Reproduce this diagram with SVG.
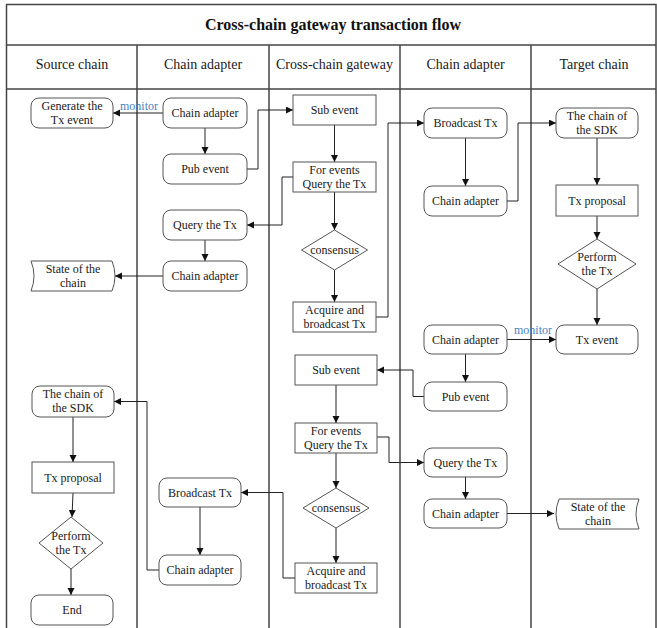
<svg xmlns="http://www.w3.org/2000/svg" width="657" height="628" viewBox="0 0 657 628">
  <style>
    .frame { fill: none; stroke: #444; stroke-width: 1.5; }
    .box { fill: #fff; stroke: #555; stroke-width: 1; }
    .t { font-family: "Liberation Serif", "Times New Roman", serif; font-size: 12px; fill: #1a1a1a; text-anchor: middle; }
    .hdr { font-family: "Liberation Serif", "Times New Roman", serif; font-size: 14px; fill: #1a1a1a; text-anchor: middle; }
    .title { font-family: "Liberation Serif", "Times New Roman", serif; font-size: 16px; font-weight: bold; fill: #111; text-anchor: middle; }
    .lbl { font-family: "Liberation Serif", "Times New Roman", serif; font-size: 12px; fill: #4a7fbf; text-anchor: middle; }
    .edge { fill: none; stroke: #222; stroke-width: 1; marker-end: url(#arrow); }
  </style>
  <defs>
    <marker id="arrow" markerUnits="userSpaceOnUse" markerWidth="8" markerHeight="8" refX="7" refY="3.5" orient="auto">
      <path d="M0,0 L7,3.5 L0,7 Z" fill="#111"/>
    </marker>
  </defs>

  <rect width="657" height="628" fill="#fff"/>

  <!-- swimlane frame -->
  <g id="frame" class="frame">
    <path d="M6.5,628 V4.5 H656 V628"/>
    <line x1="6.5" y1="45" x2="656" y2="45"/>
    <line x1="6.5" y1="89" x2="656" y2="89"/>
    <line x1="137" y1="45" x2="137" y2="628"/>
    <line x1="269" y1="45" x2="269" y2="628"/>
    <line x1="400" y1="45" x2="400" y2="628"/>
    <line x1="531" y1="45" x2="531" y2="628"/>
  </g>
  <g id="headings">
    <text class="title" x="333" y="30">Cross-chain gateway transaction flow</text>
    <text class="hdr" x="72" y="69">Source chain</text>
    <text class="hdr" x="203" y="69">Chain adapter</text>
    <text class="hdr" x="334.5" y="69">Cross-chain gateway</text>
    <text class="hdr" x="465.5" y="69">Chain adapter</text>
    <text class="hdr" x="594" y="69">Target chain</text>
  </g>

  <!-- connectors -->
  <g id="connectors">
    <path class="edge" d="M163,113 H113"/>
    <path class="edge" d="M205,128 V154"/>
    <path class="edge" d="M247,169 H258 V110 H293"/>
    <path class="edge" d="M334.5,125 V162"/>
    <path class="edge" d="M293,177 H282 V225 H247"/>
    <path class="edge" d="M205,240 V261"/>
    <path class="edge" d="M163,276 H115"/>
    <path class="edge" d="M334.5,192 V230"/>
    <path class="edge" d="M334.5,270 V302"/>
    <path class="edge" d="M376,317 H388 V123 H424"/>
    <path class="edge" d="M465.5,138 V186"/>
    <path class="edge" d="M507,201 H518 V123 H556"/>
    <path class="edge" d="M597,138 V185"/>
    <path class="edge" d="M597,216 V239"/>
    <path class="edge" d="M597,289 V325"/>
    <path class="edge" d="M507,339.5 H556"/>
    <path class="edge" d="M465.5,354 V382"/>
    <path class="edge" d="M424,396.5 H413 V370 H377"/>
    <path class="edge" d="M336,385 V423"/>
    <path class="edge" d="M377,437 H389 V462.5 H424"/>
    <path class="edge" d="M465.5,477 V499"/>
    <path class="edge" d="M507,513.5 H554"/>
    <path class="edge" d="M336,453 V488"/>
    <path class="edge" d="M336,528 V563"/>
    <path class="edge" d="M295,578 H283 V492.5 H241"/>
    <path class="edge" d="M200,507 V555"/>
    <path class="edge" d="M159,570 H147 V401.5 H114"/>
    <path class="edge" d="M73,417 V462"/>
    <path class="edge" d="M73,493 L72,517"/>
    <path class="edge" d="M71,569 V595"/>
    <text class="lbl" x="139" y="110">monitor</text>
    <text class="lbl" x="533" y="334">monitor</text>
  </g>

  <!-- Source chain lane -->
  <g id="src-generate">
    <rect class="box" x="31" y="98" width="82" height="30" rx="8"/>
    <text class="t" x="72" y="110">Generate the</text>
    <text class="t" x="72" y="124">Tx event</text>
  </g>
  <g id="src-state">
    <path class="box" d="M31,261 H112 Q118,276 112,291 H31 Q37,276 31,261 Z"/>
    <text class="t" x="73" y="273">State of the</text>
    <text class="t" x="73" y="287">chain</text>
  </g>
  <g id="src-sdk">
    <rect class="box" x="32" y="386" width="82" height="31" rx="8"/>
    <text class="t" x="73" y="398">The chain of</text>
    <text class="t" x="73" y="412">the SDK</text>
  </g>
  <g id="src-proposal">
    <rect class="box" x="32" y="462" width="82" height="31"/>
    <text class="t" x="73" y="482">Tx proposal</text>
  </g>
  <g id="src-perform">
    <polygon class="box" points="71,517 103,543 71,569 39,543"/>
    <text class="t" x="71" y="540">Perform</text>
    <text class="t" x="71" y="554">the Tx</text>
  </g>
  <g id="src-end">
    <rect class="box" x="31" y="595" width="82" height="30" rx="8"/>
    <text class="t" x="72" y="614">End</text>
  </g>

  <!-- Source-side chain adapter lane -->
  <g id="sa-adapter-1">
    <rect class="box" x="163" y="98" width="84" height="30" rx="8"/>
    <text class="t" x="205" y="117">Chain adapter</text>
  </g>
  <g id="sa-pub">
    <rect class="box" x="163" y="154" width="84" height="30" rx="8"/>
    <text class="t" x="205" y="173">Pub event</text>
  </g>
  <g id="sa-query">
    <rect class="box" x="163" y="210" width="84" height="30" rx="8"/>
    <text class="t" x="205" y="229">Query the Tx</text>
  </g>
  <g id="sa-adapter-2">
    <rect class="box" x="163" y="261" width="84" height="30" rx="8"/>
    <text class="t" x="205" y="280">Chain adapter</text>
  </g>
  <g id="sa-broadcast">
    <rect class="box" x="159" y="478" width="82" height="29" rx="8"/>
    <text class="t" x="200" y="497">Broadcast Tx</text>
  </g>
  <g id="sa-adapter-3">
    <rect class="box" x="159" y="555" width="82" height="30" rx="8"/>
    <text class="t" x="200" y="574">Chain adapter</text>
  </g>

  <!-- Gateway lane -->
  <g id="gw-sub-1">
    <rect class="box" x="293" y="95" width="83" height="30"/>
    <text class="t" x="334.5" y="114">Sub event</text>
  </g>
  <g id="gw-query-1">
    <rect class="box" x="293" y="162" width="83" height="30"/>
    <text class="t" x="334.5" y="174">For events</text>
    <text class="t" x="334.5" y="188">Query the Tx</text>
  </g>
  <g id="gw-consensus-1">
    <polygon class="box" points="334.5,230 367.5,250 334.5,270 301.5,250"/>
    <text class="t" x="334.5" y="254">consensus</text>
  </g>
  <g id="gw-acquire-1">
    <rect class="box" x="293" y="302" width="83" height="30"/>
    <text class="t" x="334.5" y="314">Acquire and</text>
    <text class="t" x="334.5" y="328">broadcast Tx</text>
  </g>
  <g id="gw-sub-2">
    <rect class="box" x="295" y="355" width="82" height="30"/>
    <text class="t" x="336" y="374">Sub event</text>
  </g>
  <g id="gw-query-2">
    <rect class="box" x="295" y="423" width="82" height="30"/>
    <text class="t" x="336" y="435">For events</text>
    <text class="t" x="336" y="449">Query the Tx</text>
  </g>
  <g id="gw-consensus-2">
    <polygon class="box" points="336,488 369,508 336,528 303,508"/>
    <text class="t" x="336" y="512">consensus</text>
  </g>
  <g id="gw-acquire-2">
    <rect class="box" x="295" y="563" width="82" height="30"/>
    <text class="t" x="336" y="575">Acquire and</text>
    <text class="t" x="336" y="589">broadcast Tx</text>
  </g>

  <!-- Target-side chain adapter lane -->
  <g id="ta-broadcast">
    <rect class="box" x="424" y="108" width="83" height="30" rx="8"/>
    <text class="t" x="465.5" y="127">Broadcast Tx</text>
  </g>
  <g id="ta-adapter-1">
    <rect class="box" x="424" y="186" width="83" height="30" rx="8"/>
    <text class="t" x="465.5" y="205">Chain adapter</text>
  </g>
  <g id="ta-adapter-2">
    <rect class="box" x="424" y="325" width="83" height="29" rx="8"/>
    <text class="t" x="465.5" y="343.5">Chain adapter</text>
  </g>
  <g id="ta-pub">
    <rect class="box" x="424" y="382" width="83" height="29" rx="8"/>
    <text class="t" x="465.5" y="400.5">Pub event</text>
  </g>
  <g id="ta-query">
    <rect class="box" x="424" y="448" width="83" height="29" rx="8"/>
    <text class="t" x="465.5" y="466.5">Query the Tx</text>
  </g>
  <g id="ta-adapter-3">
    <rect class="box" x="424" y="499" width="83" height="29" rx="8"/>
    <text class="t" x="465.5" y="517.5">Chain adapter</text>
  </g>

  <!-- Target chain lane -->
  <g id="tgt-sdk">
    <rect class="box" x="556" y="108" width="82" height="30" rx="8"/>
    <text class="t" x="597" y="120">The chain of</text>
    <text class="t" x="597" y="134">the SDK</text>
  </g>
  <g id="tgt-proposal">
    <rect class="box" x="556" y="185" width="82" height="31"/>
    <text class="t" x="597" y="205">Tx proposal</text>
  </g>
  <g id="tgt-perform">
    <polygon class="box" points="597,239 636,264 597,289 558,264"/>
    <text class="t" x="597" y="261">Perform</text>
    <text class="t" x="597" y="275">the Tx</text>
  </g>
  <g id="tgt-event">
    <rect class="box" x="556" y="325" width="82" height="29" rx="8"/>
    <text class="t" x="597" y="343.5">Tx event</text>
  </g>
  <g id="tgt-state">
    <path class="box" d="M559,499 H639 Q633,514 639,529 H559 Q553,514 559,499 Z"/>
    <text class="t" x="598" y="511">State of the</text>
    <text class="t" x="598" y="525">chain</text>
  </g>
</svg>
